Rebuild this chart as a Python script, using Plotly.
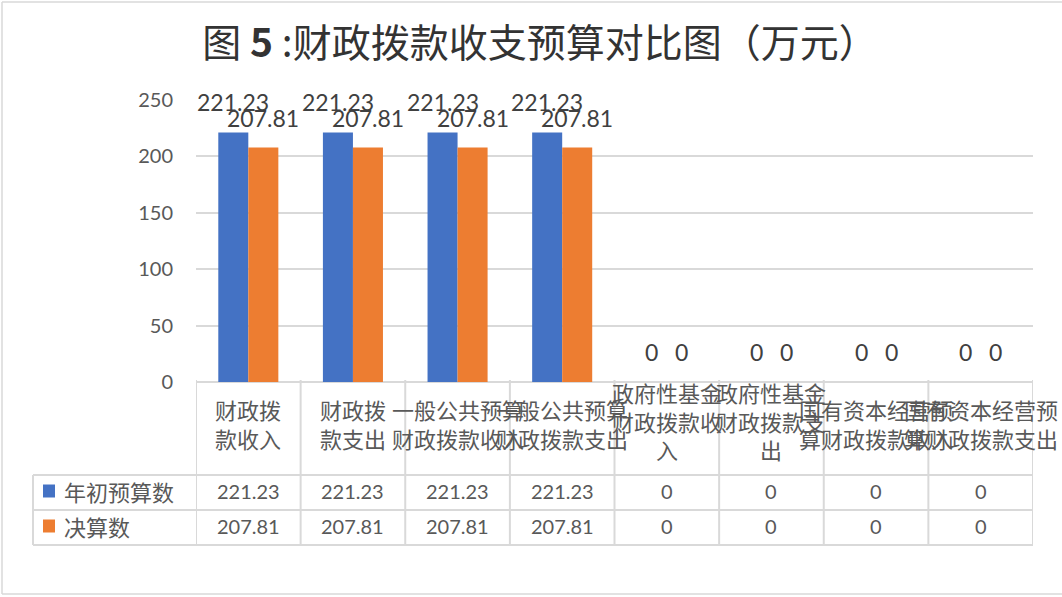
import plotly.graph_objects as go

# ---- data ----
categories = ["财政拨款收入", "财政拨款支出", "一般公共预算财政拨款收入", "一般公共预算财政拨款支出",
              "政府性基金财政拨款收入", "政府性基金财政拨款支出", "国有资本经营预算财政拨款收入",
              "国有资本经营预算财政拨款支出"]
tick_labels = ["财政拨<br>款收入", "财政拨<br>款支出", "一般公共预算<br>财政拨款收入", "一般公共预算<br>财政拨款支出",
               "政府性基金<br>财政拨款收<br>入", "政府性基金<br>财政拨款支<br>出", "国有资本经营预<br>算财政拨款收入",
               "国有资本经营预<br>算财政拨款支出"]
series_names = ["年初预算数", "决算数"]
budget = [221.23, 221.23, 221.23, 221.23, 0, 0, 0, 0]
final = [207.81, 207.81, 207.81, 207.81, 0, 0, 0, 0]
y_ticks = [0, 50, 100, 150, 200, 250]
title_text = "图 <b>5</b> :财政拨款收支预算对比图（万元）"

colors = ["#4472C4", "#ED7D31"]
W, H = 1062, 597
FONT = "Lato, Noto Sans CJK SC, sans-serif"
CJK = "Noto Sans CJK SC, sans-serif"
GRID = "#d9d9d9"
TXT = "#595959"


def px(x):
    return x / W


def py(y):
    return 1 - y / H


x_left, x_right = 196, 1033
y_zero, y_top = 382, 100

fig = go.Figure()
for name, vals, c in zip(series_names, [budget, final], colors):
    fig.add_trace(go.Bar(x=categories, y=vals, name=name, marker_color=c,
                         marker_line_width=0, showlegend=False))

n = len(categories)
fig.update_layout(
    width=W, height=H,
    margin=dict(l=0, r=0, t=0, b=0, pad=0, autoexpand=False),
    paper_bgcolor="white", plot_bgcolor="white",
    showlegend=False,
    barmode="group", bargap=0.426, bargroupgap=0,
    title=dict(text=title_text, x=0.5085, xanchor="center", y=py(43), yanchor="middle",
               font=dict(family=CJK, size=39, color="#333333")),
    xaxis=dict(domain=[px(x_left), px(x_right)], range=[-0.5, n - 0.5], autorange=False,
               showticklabels=False, showgrid=False,
               showline=False, zeroline=False, ticks="", automargin=False),
    yaxis=dict(domain=[py(y_zero), py(y_top)], range=[0, 250], autorange=False, tickvals=y_ticks,
               showgrid=True, gridcolor=GRID, gridwidth=1.5, zeroline=True,
               zerolinecolor=GRID, zerolinewidth=2, showline=False, ticks="",
               ticklabelstandoff=22, automargin=False,
               tickfont=dict(family=FONT, size=20, color=TXT)),
    font=dict(family=FONT),
)

ann = []
shapes = []
# data labels above bars
for si, vals in enumerate([budget, final]):
    shift = -15 if si == 0 else 15
    for cat, v in zip(categories, vals):
        ann.append(dict(x=cat, y=v, xref="x", yref="y", xshift=shift, yshift=30,
                        text=f"{v:g}", showarrow=False, xanchor="center", yanchor="middle",
                        font=dict(family=FONT, size=23, color="#404040")))

# category labels (table header)
for cat, lab in zip(categories, tick_labels):
    nlines = lab.count("<br>") + 1
    yc = 423 if nlines == 2 else 420
    ann.append(dict(x=cat, y=py(yc), xref="x", yref="paper", text=lab, showarrow=False,
                    xanchor="center", yanchor="middle", align="center",
                    font=dict(family=CJK, size=22, color=TXT)))

# table rows
row_centers = [491, 526]
for si, (name, vals) in enumerate(zip(series_names, [budget, final])):
    yc = row_centers[si]
    for cat, v in zip(categories, vals):
        ann.append(dict(x=cat, y=py(yc), xref="x", yref="paper", text=f"{v:g}", showarrow=False,
                        xanchor="center", yanchor="middle",
                        font=dict(family=FONT, size=20, color=TXT)))
    ann.append(dict(x=px(62), y=py(yc), xref="paper", yref="paper", text=name, showarrow=False,
                    xanchor="left", yanchor="middle",
                    font=dict(family=CJK, size=22, color=TXT)))
    shapes.append(dict(type="rect", xref="paper", yref="paper", x0=px(43), x1=px(55),
                       y0=py(yc + 6.5), y1=py(yc - 6.5), fillcolor=colors[si], line_width=0))

# table grid
for yv in [475, 510, 545]:
    shapes.append(dict(type="line", xref="paper", yref="paper", x0=px(33), x1=px(x_right),
                       y0=py(yv), y1=py(yv), line=dict(color=GRID, width=2)))
shapes.append(dict(type="line", xref="paper", yref="paper", x0=px(33), x1=px(33),
                   y0=py(475), y1=py(545), line=dict(color=GRID, width=2)))
for i in range(n + 1):
    shapes.append(dict(type="line", xref="x", yref="paper", x0=i - 0.5, x1=i - 0.5,
                       y0=py(380), y1=py(545), line=dict(color=GRID, width=2)))

# chart border
for (x0, y0, x1, y1) in [(2, 2, 1062, 2), (2, 2, 2, 594), (2, 594, 1062, 594)]:
    shapes.append(dict(type="line", xref="paper", yref="paper", x0=px(x0), x1=px(x1),
                       y0=py(y0), y1=py(y1), line=dict(color=GRID, width=1.5)))

fig.update_layout(annotations=ann, shapes=shapes)
fig.write_html("out.html", config={"displayModeBar": False},
               post_script="document.body.style.margin='0';document.body.style.overflow='hidden';")
